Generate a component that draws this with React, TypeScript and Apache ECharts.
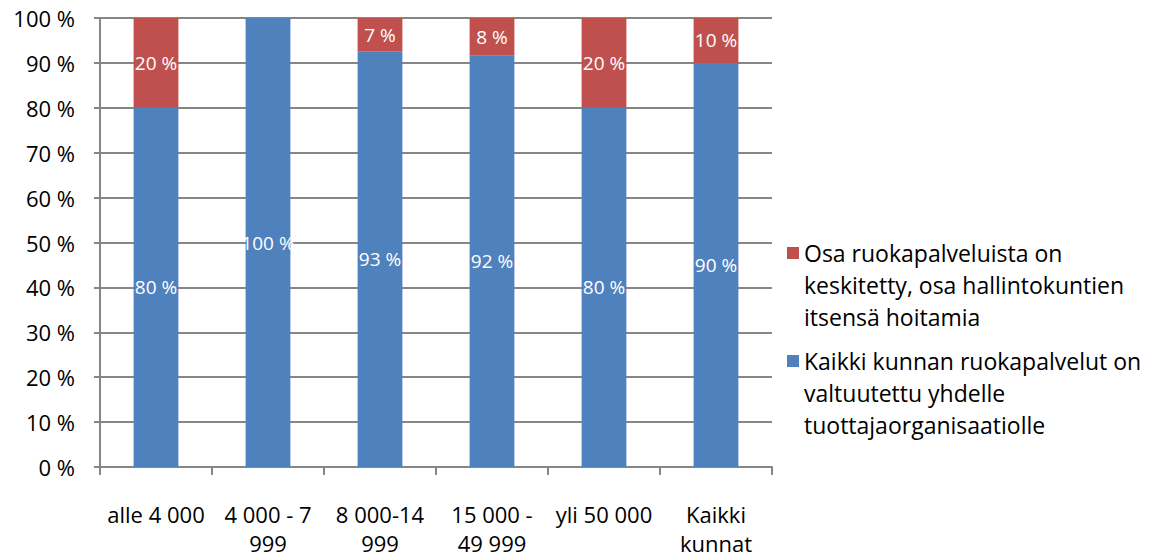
import React, { useEffect, useRef } from "react";
import * as echarts from "echarts";

const categories = ["alle 4 000", "4 000 - 7 999", "8 000-14 999", "15 000 - 49 999", "yli 50 000", "Kaikki kunnat"];
const tickLabels = ["alle 4 000", "4 000 - 7\n999", "8 000-14\n999", "15 000 -\n49 999", "yli 50 000", "Kaikki\nkunnat"];
const blueName = "Kaikki kunnan ruokapalvelut on valtuutettu yhdelle tuottajaorganisaatiolle";
const redName = "Osa ruokapalveluista on keskitetty, osa hallintokuntien itsensä hoitamia";
const blueLegend = "Kaikki kunnan ruokapalvelut on\nvaltuutettu yhdelle\ntuottajaorganisaatiolle";
const redLegend = "Osa ruokapalveluista on\nkeskitetty, osa hallintokuntien\nitsensä hoitamia";
const blueValues = [80, 100, 92.6, 91.6, 80, 90];
const redValues = [20, 0, 7.4, 8.4, 20, 10];
const yTicks = [0, 10, 20, 30, 40, 50, 60, 70, 80, 90, 100];

const FONT = "Open Sans";
// square at top of a tall transparent box, so the marker sits beside the first text line
const TOP_ICON = "path://M0,0H12V12H0Z M0,75.99H12V76H0Z";

export default function App() {
  const ref = useRef<HTMLDivElement>(null);
  useEffect(() => {
    const chart = echarts.init(ref.current!, null, { renderer: "svg" });
    const label = {
      show: true,
      position: "inside",
      color: "#fff",
      fontFamily: FONT,
      fontSize: 19,
      formatter: (p: any) => (p.value > 0 ? Math.round(p.value) + " %" : ""),
    };
    chart.setOption({
      animation: false,
      backgroundColor: "#fff",
      grid: { left: 100, right: 377, top: 18, bottom: 93, containLabel: false },
      legend: {
        orient: "vertical",
        left: 782,
        top: 232,
        itemWidth: 12,
        itemHeight: 76,
        itemGap: 12,
        icon: TOP_ICON,
        data: [redName, blueName],
        formatter: (n: string) => (n === redName ? redLegend : blueLegend),
        textStyle: { fontFamily: FONT, fontSize: 23, color: "#000", lineHeight: 32 },
      },
      xAxis: {
        type: "category",
        data: categories,
        axisLine: { lineStyle: { color: "#868686", width: 2 } },
        axisTick: { show: true, length: 8, lineStyle: { color: "#868686", width: 2 } },
        axisLabel: {
          interval: 0,
          margin: 32,
          fontFamily: FONT,
          fontSize: 22,
          color: "#000",
          lineHeight: 29,
          formatter: (v: string) => tickLabels[categories.indexOf(v)],
        },
      },
      yAxis: {
        type: "value",
        min: 0,
        max: 100,
        interval: 10,
        axisLine: { show: true, lineStyle: { color: "#868686", width: 2 } },
        axisTick: { show: true, length: 6, lineStyle: { color: "#868686", width: 2 } },
        splitLine: { show: true, lineStyle: { color: "#868686", width: 2 } },
        axisLabel: {
          margin: 25,
          fontFamily: FONT,
          fontSize: 22,
          color: "#000",
          formatter: (v: number) => (yTicks.includes(v) ? v + " %" : ""),
        },
      },
      series: [
        {
          name: blueName,
          type: "bar",
          stack: "total",
          barWidth: "40%",
          data: blueValues,
          itemStyle: { color: "#4F81BD" },
          label,
        },
        {
          name: redName,
          type: "bar",
          stack: "total",
          barWidth: "40%",
          data: redValues,
          itemStyle: { color: "#C0504D" },
          label,
        },
      ],
    });
    return () => chart.dispose();
  }, []);
  return <div ref={ref} style={{ width: 1149, height: 560, margin: -8 }} />;
}
